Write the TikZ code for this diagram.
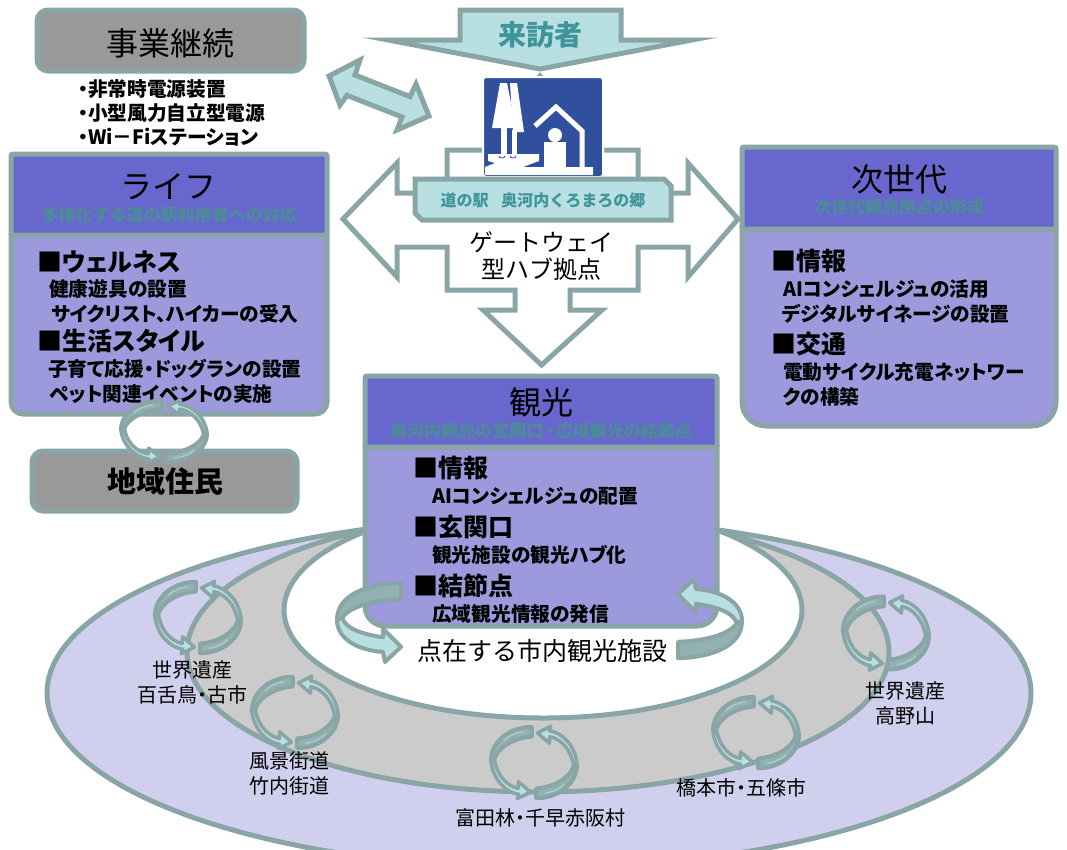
\documentclass[tikz,border=0pt]{standalone}
\usepackage{fontspec}
\setmainfont{Noto Sans CJK JP}
\definecolor{ln}{HTML}{8AA5A6}
\definecolor{band}{HTML}{94B1B2}
\definecolor{streak}{HTML}{A9CACB}
\definecolor{lt}{HTML}{B8E0E2}
\definecolor{tealtx}{HTML}{3F9599}
\definecolor{subtx}{HTML}{4C8C98}
\definecolor{hdr}{HTML}{6767CD}
\definecolor{body}{HTML}{9C9ADC}
\definecolor{grayb}{HTML}{999999}
\definecolor{outer}{HTML}{D0D0EE}
\definecolor{midg}{HTML}{CBCBCB}
\definecolor{iconb}{HTML}{30509E}
\newcommand{\fz}[2]{\fontsize{#1}{#2}\selectfont}
\newcommand{\pal}{\addfontfeatures{RawFeature=+palt}}
\newcommand{\nd}{\hspace{-.25em}・\hspace{-.25em}}
\newcommand{\ndw}{\hspace{-.12em}・\hspace{-.12em}}
\newcommand{\smallhalf}{%
  \draw[ln,line width=4pt,line join=round,fill=band] (-.05,-.96) .. controls (-.5,-.98) and (-.98,-.6) .. (-.98,-.05) -- (-.9,-.1) .. controls (-.82,-.42) and (-.42,-.68) .. (-.05,-.7) -- cycle;
  \draw[streak,line width=1.4pt,line cap=round] (-.25,-.83) .. controls (-.42,-.8) and (-.58,-.72) .. (-.68,-.6);
  \draw[ln,line width=3.5pt,line join=round,fill=lt] (-.98,-.05) .. controls (-.94,.45) and (-.65,.8) .. (-.35,.86) -- (-.38,.98) -- (-.08,.8) -- (-.35,.52) -- (-.36,.7) .. controls (-.62,.64) and (-.86,.32) .. (-.9,-.1) -- cycle;
}
\newcommand{\bighalf}{%
  \draw[ln,line width=4pt,line join=round,fill=lt] (-1,-.05) .. controls (-1,.4) and (-.7,.7) .. (-.28,.75) -- (-.25,1) -- (0,.62) -- (-.28,.17) -- (-.28,.38) .. controls (-.55,.32) and (-.85,.2) .. (-.92,-.1) -- cycle;
  \draw[ln,line width=4pt,line join=round,fill=band] (0,-.98) .. controls (-.5,-.96) and (-1,-.7) .. (-1,-.05) -- (-.92,-.1) .. controls (-.8,-.4) and (-.4,-.55) .. (0,-.57) -- cycle;
}
\newcommand{\ringpair}[4]{%
  \begin{scope}[shift={(#1,#2)},xscale=#3,yscale=#4]\smallhalf\end{scope}
  \begin{scope}[shift={(#1,#2)},xscale=-#3,yscale=-#4]\smallhalf\end{scope}
}
\tikzset{
  frame/.style={draw=ln,line width=5pt,line join=miter,miter limit=30},
  roundbox/.style={draw=ln,line width=5pt,fill=grayb,rounded corners=11pt},
  itm/.style={anchor=west,inner sep=0pt,font=\bfseries\fz{19.7}{24}\pal},
  hd/.style={anchor=west,inner sep=0pt,font=\bfseries\fz{25}{28}\pal},
  ttl/.style={inner sep=0pt,font=\fz{32}{36}},
  sub/.style={inner sep=0pt,text=subtx,font=\bfseries\fz{17}{20}},
  plc/.style={inner sep=0pt,align=center,font=\fz{20}{24.5}},
}
\begin{document}
\begin{tikzpicture}[x=1pt,y=-1pt]
\clip (0,0) rectangle (1067,849);
% ellipses
\draw[frame,fill=outer] (539,693) ellipse [x radius=492pt,y radius=175pt];
\draw[frame,fill=midg] (538,652) ellipse [x radius=351pt,y radius=140pt];
\draw[frame,fill=white] (543,610) ellipse [x radius=259pt,y radius=108pt];
% top left box
\draw[roundbox] (37,10) rectangle (304,71);
\node (jigyo) [ttl] at (170,43) {事業継続};
\node (b1) [itm] at (78,89) {・非常時電源装置};
\node (b2) [itm] at (78,113) {・小型風力自立型電源};
\node (b3) [itm] at (78,137) {・Wi－Fiステーション};
% life box
\draw[frame,fill=body] (11,235) -- (327,235) [rounded corners=12pt] -- (327,414) -- (11,414) [sharp corners] -- cycle;
\draw[frame,fill=hdr,rounded corners=2pt] (11,154) rectangle (327,235);
\node (lifet) [ttl] at (168,187) {ライフ};
\node (lifes) [sub] at (169,215) {多様化する道の駅利用者への対応};
\node (l1) [hd] at (37,262) {■ウェルネス};
\node (l2) [itm] at (49,289) {健康遊具の設置};
\node (l3) [itm] at (51,314) {サイクリスト、ハイカーの受入};
\node (l4) [hd] at (37,341) {■生活スタイル};
\node (l5) [itm] at (48,369) {子育て応援・ドッグランの設置};
\node (l6) [itm] at (50,394) {ペット関連イベントの実施};
% residents
\draw[roundbox] (32,451) rectangle (297,511);
\node (jumin) [inner sep=0pt,font=\bfseries\fz{29}{32}] at (165,481) {地域住民};
\ringpair{164}{431.5}{44}{32}
% next generation box
\draw[frame,fill=body] (742,228) -- (1056,228) [rounded corners=24pt] -- (1056,426) -- (742,426) [sharp corners] -- cycle;
\draw[frame,fill=hdr,rounded corners=2pt] (742,147) rectangle (1056,229);
\node (nextt) [ttl] at (899,179) {次世代};
\node (nexts) [sub] at (899,207) {次世代観光拠点の形成};
\node (n1) [hd] at (771,261) {■情報};
\node (n2) [itm] at (783,289) {AIコンシェルジュの活用};
\node (n3) [itm] at (782,314) {デジタルサイネージの設置};
\node (n4) [hd] at (771,344) {■交通};
\node (n5) [itm] at (783,372) {電動サイクル充電ネットワー};
\node (n6) [itm] at (783,397) {クの構築};
% hub arrow
\draw[frame,fill=white] (343,219) -- (397,163) -- (397,193) -- (447,193) -- (447,150) -- (638,150) -- (638,193) -- (688,193) -- (688,163) -- (738,219) -- (688,277) -- (688,247) -- (638,247) -- (638,290) -- (570,290) -- (570,310) -- (602,310) -- (541.5,365) -- (483,310) -- (515,310) -- (515,290) -- (447,290) -- (447,247) -- (397,247) -- (397,277) -- cycle;
% visitors arrow
\draw[frame,fill=lt] (460,10) -- (621,10) -- (621,40) -- (692,40) -- (540,69) -- (388,40) -- (460,40) -- cycle;
\fill[ln] (537,76) -- (543,76) -- (540,72) -- cycle;
\node (raiho) [inner sep=0pt,text=tealtx,font=\bfseries\fz{28}{32}] at (540,35) {来訪者};
% double arrow
\draw[frame,fill=lt,miter limit=4] (329,76) -- (360,60) -- (355,75) -- (410,96.6) -- (416,84) -- (429,116) -- (397,130) -- (402,117) -- (347,95.4) -- (340,105) -- cycle;
% icon
\draw[white,line width=2pt,fill=iconb,rounded corners=3pt] (483,77) rectangle (603,177);
\fill[white] (500,83) -- (507,83) -- (516,128) -- (492,128) -- cycle;
\fill[white] (501,128) rectangle (507,155);
\fill[white] (510,83) -- (517,83) -- (524,132) -- (513,132) -- cycle;
\fill[white] (512,130) rectangle (517,155);
\fill[white] (488,154) -- (539,154) -- (539,161) -- (523,167) -- (593,167) -- (593,175) -- (485,175) -- (485,167) -- (495,163) -- (488,161) -- cycle;
\draw[white,line width=5pt,line join=miter] (535,126) -- (556,107) -- (582,131) -- (582,170);
\fill[white] (555,135) circle [radius=7pt];
\fill[white] (544,142) rectangle (566,167);
\draw[iconb,line width=.8pt] (499,156) arc [start angle=180,end angle=0,radius=3pt,y radius=-2pt];
\draw[iconb,line width=.8pt] (510,156) arc [start angle=180,end angle=0,radius=3pt,y radius=-2pt];
% station label
\draw[frame,fill=lt,miter limit=4] (415,179) -- (664,179) -- (671,186) -- (671,220) -- (422,220) -- (415,213) -- cycle;
\node (eki) [inner sep=0pt,text=tealtx,font=\bfseries\fz{16}{20}] at (543,200) {道の駅\hspace{.8em}奥河内くろまろの郷};
\node (gate) [inner sep=0pt,align=center,font=\fz{24}{27}] at (541,256) {ゲートウェイ\\型ハブ拠点};
% tourism box
\draw[frame,fill=body] (365,447) -- (717,447) [rounded corners=20pt] -- (717,626) -- (365,626) [sharp corners] -- cycle;
\draw[frame,fill=hdr,rounded corners=2pt] (365,376) rectangle (717,447);
\node (kankot) [ttl] at (541,402) {観光};
\node (kankos) [sub] at (541,431) {奥河内観光の玄関口\ndw 広域観光の結節点};
\node (k1) [hd] at (413,468) {■情報};
\node (k2) [itm] at (432,496) {AIコンシェルジュの配置};
\node (k3) [hd] at (413,527) {■玄関口};
\node (k4) [itm] at (432,555) {観光施設の観光ハブ化};
\node (k5) [hd] at (413,586) {■結節点};
\node (k6) [itm] at (432,614) {広域観光情報の発信};
% big arcs
\begin{scope}[shift={(401,622)},xscale=64,yscale=40]\bighalf\end{scope}
\begin{scope}[shift={(678,619)},xscale=-64,yscale=-40]\bighalf\end{scope}
\node (tenzai) [inner sep=0pt,font=\fz{25}{28}] at (542,651) {点在する市内観光施設};
% rings
\ringpair{198}{617.5}{44}{37}
\ringpair{295}{712.5}{44}{37}
\ringpair{534}{762.5}{44}{37}
\ringpair{756}{732.5}{44}{37}
\ringpair{886}{633}{44}{38}
% place labels
\node (p1) [plc] at (192,682.5) {世界遺産\\百舌鳥\nd 古市};
\node (p2) [plc] at (289.5,773.5) {風景街道\\竹内街道};
\node (p3) [plc] at (540,818) {富田林\nd 千早赤阪村};
\node (p4) [plc] at (741,788) {橋本市\nd 五條市};
\node (p5) [plc] at (905,703.5) {世界遺産\\高野山};
\end{tikzpicture}
\end{document}
